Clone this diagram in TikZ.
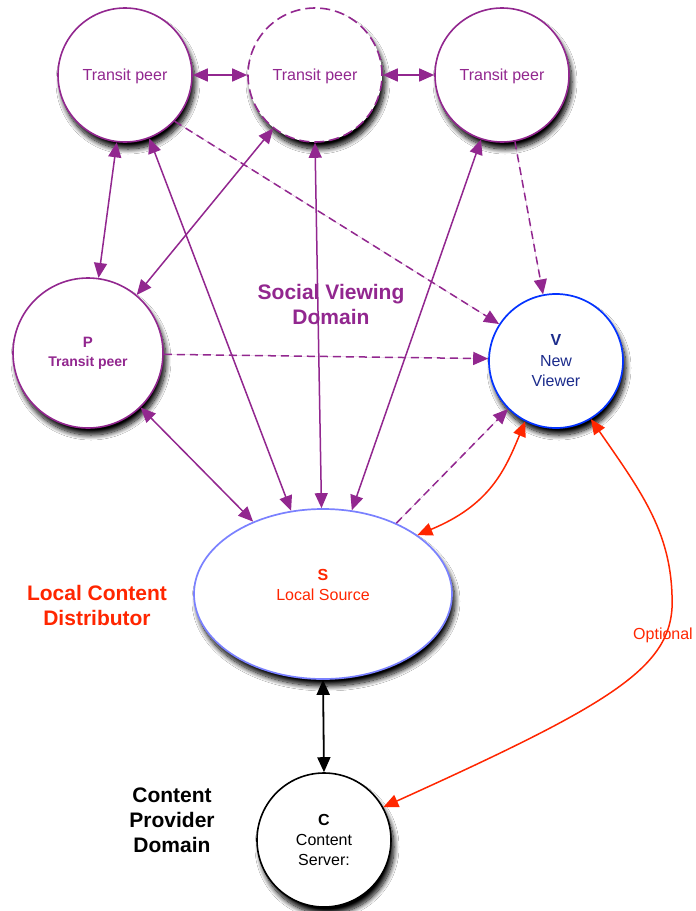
\documentclass[tikz,border=0pt]{standalone}
\usepackage{fontspec}
\setmainfont{Liberation Sans}
\usetikzlibrary{arrows.meta,shapes.geometric,shadows.blur}
\definecolor{pur}{RGB}{146,39,143}
\definecolor{rd}{RGB}{255,38,0}
\definecolor{vblue}{RGB}{4,51,255}
\definecolor{sblue}{RGB}{122,129,255}
\definecolor{navy}{RGB}{28,44,140}
\begin{document}
\begin{tikzpicture}[x=1pt,y=-1pt,
  shad/.style={blur shadow={shadow xshift=3pt,shadow yshift=-7pt,shadow blur radius=5pt,shadow blur steps=12,shadow opacity=100}},
  peer/.style={circle,draw=pur,line width=1.6pt,fill=white,minimum size=134pt,inner sep=0pt,text=pur,align=center,font=\fontsize{16}{20}\selectfont,shad},
  viewer/.style={circle,draw=vblue,line width=1.7pt,fill=white,minimum size=134pt,inner sep=0pt,text=navy,align=center,font=\fontsize{16}{20.5}\selectfont,shad},
  source/.style={ellipse,draw=sblue,line width=1.7pt,fill=white,minimum width=258pt,minimum height=170pt,inner sep=0pt,shad},
  server/.style={circle,draw=black,line width=1.6pt,fill=white,minimum size=134pt,inner sep=0pt,text=black,align=center,font=\fontsize{16}{20}\selectfont,shad},
  domlabel/.style={align=center,font=\bfseries\fontsize{21}{25}\selectfont},
  link/.style={draw=pur,line width=1.5pt,{Triangle[length=15pt,width=13pt]}-{Triangle[length=15pt,width=13pt]},fill=pur},
  dlink/.style={draw=pur,fill=pur,line width=1.5pt,dash pattern=on 8pt off 5pt,-{Triangle[length=15pt,width=13pt]}},
  rlink/.style={draw=rd,line width=1.5pt,{Triangle[length=15pt,width=13pt]}-{Triangle[length=15pt,width=13pt]}},
  blink/.style={draw=black,line width=1.8pt,{Triangle[length=15pt,width=13pt]}-{Triangle[length=15pt,width=13pt]}}
]
\fill[white] (0,0) rectangle (696,911);
\useasboundingbox (0,0) rectangle (696,911);

% nodes
\node[peer,text depth=0pt] (t1) at (125,75) {Transit peer};
\node[peer,text depth=0pt,dash pattern=on 10pt off 5pt] (t2) at (315,75) {Transit peer};
\node[peer,text depth=0pt] (t3) at (502,75) {Transit peer};
\node[peer,minimum size=150pt,font=\bfseries\fontsize{14}{19}\selectfont] (p) at (88,353) {{\fontsize{15}{19}\selectfont P}\\Transit peer};
\node[viewer] (v) at (556,361) {{\bfseries V}\\New\\Viewer};
\node[source,label={[text=rd,align=center,font=\fontsize{16}{20}\selectfont,yshift=9pt]center:{{\bfseries S}\\Local Source}}] (s) at (323,594) {};
\node[server] (c) at (324,840) {{\bfseries C}\\Content\\Server:};

% labels
\node[domlabel,text=pur] (svd) at (331,304) {Social Viewing\\Domain};
\node[domlabel,text=rd] (lcd) at (97,605) {Local Content\\Distributor};
\node[domlabel,text=black] (cpd) at (172,820) {Content\\Provider\\Domain};

% connectors
\draw[link] (t1.east) -- (t2.west);
\draw[link] (t2.east) -- (t3.west);
\draw[link] (t1.263) -- (p.82);
\draw[link] (t2.232) -- (p.50);
\draw[link] (t1.-69) -- (s.111);
\draw[link] (t2.south) -- (s.91);
\draw[link] (t3.252) -- (s.71);
\draw[link] (p.-46) -- (s.134);
\draw[dlink] (t1.-43) -- (v.147);
\draw[dlink] (t3.-79) -- (v.101);
\draw[dlink] (p.-1) -- (v.178);
\draw[dlink] (s.44) -- (v.225);
\draw[rlink] (s.32) .. controls (490,505) and (505,470) .. (v.243);
\draw[rlink] (v.-59) .. controls (640,490) and (670,530) .. (672,595) .. controls (676,665) and (620,700) .. (c.29);
\draw[blink] (s.south) -- (c.north);
\node[text=rd,font=\fontsize{16}{20}\selectfont] (opt) at (663,635) {Optional};
\end{tikzpicture}
\end{document}
